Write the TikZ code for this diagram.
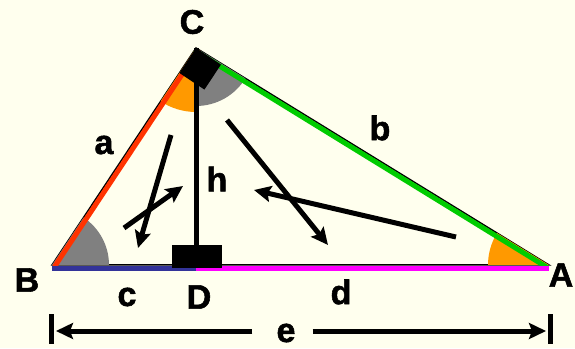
\documentclass[tikz,border=0pt]{standalone}
\usepackage{fontspec}
\setmainfont{Liberation Sans}[BoldFeatures={FakeBold=1.6}]
\usetikzlibrary{arrows.meta}
\definecolor{bgcream}{HTML}{FFFFEE}
\definecolor{sidered}{HTML}{FF3300}
\definecolor{sidegreen}{HTML}{00CC00}
\definecolor{sideblue}{HTML}{333399}
\definecolor{sidemagenta}{HTML}{FF00FF}
\definecolor{angorange}{HTML}{FF9900}
\definecolor{anggray}{HTML}{808080}
\begin{document}
\begin{tikzpicture}[x=1pt, y=1pt, every node/.style={font=\fontsize{34}{40}\selectfont\bfseries, inner sep=0pt},
  pointer/.style={line width=5pt, -{Stealth[length=17pt,width=16pt,inset=3pt]}},
  colside/.style={line width=5pt}]
  % background
  \fill[bgcream] (0,0) rectangle (575,348);
  \useasboundingbox (0,0) rectangle (575,348);
  % corners
  \coordinate (B) at (52,83);
  \coordinate (D) at (196,83);
  \coordinate (A) at (549,83);
  \coordinate (C) at (196,300);
  % thin outline
  \draw[line width=1.5pt] (B) -- (C) -- (A) -- cycle;
  % angles
  \fill[anggray] (B) -- ++(0:57pt) arc[start angle=0, end angle=56.43, radius=57pt] -- cycle;
  \fill[angorange] (C) -- ++(236.43:64pt) arc[start angle=236.43, end angle=270, radius=64pt] -- cycle;
  \fill[anggray] (C) -- ++(270:58pt) arc[start angle=270, end angle=328.42, radius=58pt] -- cycle;
  \fill[angorange] (A) -- ++(148.42:61pt) arc[start angle=148.42, end angle=180, radius=61pt] -- cycle;
  % coloured sides
  \draw[colside, sidered, transform canvas={shift={(2.5pt,-1.65pt)}}] (B) -- (C);
  \draw[colside, sidegreen, transform canvas={shift={(-1.6pt,-2.55pt)}}] (C) -- (A);
  \draw[colside, sideblue, transform canvas={shift={(0pt,-3.8pt)}}] (B) -- (D);
  \draw[colside, sidemagenta, transform canvas={shift={(0pt,-3.8pt)}}] (D) -- (A);
  % altitude and right angles
  \draw[line width=5pt] (C) -- (D);
  \fill (C) -- ++(236.43:30pt) -- ++(326.43:30pt) -- ++(56.43:30pt) -- cycle;
  \fill (D) ++(-24,-3) rectangle ++(50,23);
  % labels
  \node (lC) at (192,326) {C};
  \node (la) at (104,203) {a};
  \node (lh) at (217,169) {h};
  \node (lB) at (27,68) {B};
  \node (lc) at (127,51) {c};
  \node (lD) at (199,51) {D};
  \node (lb) at (380,220) {b};
  \node (ld) at (341,56) {d};
  \node (lA) at (561,73) {A};
  \node (e) at (286,15) {e};
  % angle pointers
  \coordinate (p1) at (171,213); \coordinate (q1) at (138,100);
  \coordinate (p2) at (124,120); \coordinate (q2) at (183,162);
  \coordinate (p3) at (227,228); \coordinate (q3) at (328,103);
  \coordinate (p4) at (456,111); \coordinate (q4) at (254,158);
  \draw[pointer] (p1) -- (q1);
  \draw[pointer] (p2) -- (q2);
  \draw[pointer] (p3) -- (q3);
  \draw[pointer] (p4) -- (q4);
  % length e
  \coordinate (eL) at (56,17);
  \coordinate (eR) at (546,17);
  \draw[line width=5pt] (eL) ++(-5,17) -- ++(0,-30);
  \draw[line width=5pt] (eR) ++(4,17) -- ++(0,-30);
  \draw[pointer] (e.west |- eL) ++(-24,0) -- (eL);
  \draw[pointer] (e.east |- eR) ++(17,0) -- (eR);
\end{tikzpicture}
\end{document}
